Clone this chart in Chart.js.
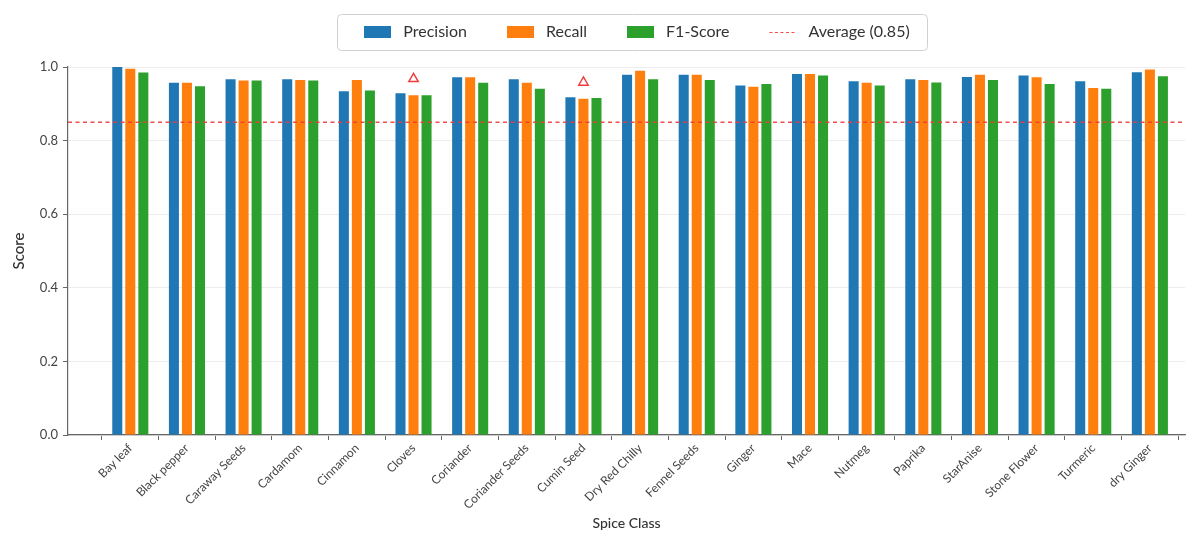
<!DOCTYPE html>
<html>
<head>
<meta charset="utf-8">
<script src="https://cdn.jsdelivr.net/npm/chart.js@4.4.1/dist/chart.umd.min.js"></script>
<style>
  html, body { margin: 0; padding: 0; background: #ffffff; }
  #wrap { width: 1192px; height: 538px; }
</style>
</head>
<body>
<div id="wrap"><canvas id="chart" width="1192" height="538"></canvas></div>
<script>
// Per-class classification metrics
const CATEGORIES = [
  'Bay leaf', 'Black pepper', 'Caraway Seeds', 'Cardamom', 'Cinnamon', 'Cloves',
  'Coriander', 'Coriander Seeds', 'Cumin Seed', 'Dry Red Chilly', 'Fennel Seeds',
  'Ginger', 'Mace', 'Nutmeg', 'Paprika', 'StarAnise', 'Stone Flower', 'Turmeric', 'dry Ginger'
];
const PRECISION = [1.000, 0.957, 0.967, 0.967, 0.934, 0.929, 0.972, 0.967, 0.918, 0.979,
                   0.979, 0.950, 0.981, 0.961, 0.967, 0.973, 0.977, 0.961, 0.986];
const RECALL    = [0.995, 0.957, 0.963, 0.965, 0.965, 0.923, 0.972, 0.957, 0.914, 0.990,
                   0.979, 0.946, 0.981, 0.957, 0.965, 0.979, 0.972, 0.943, 0.993];
const F1_SCORE  = [0.985, 0.948, 0.963, 0.963, 0.936, 0.923, 0.957, 0.941, 0.916, 0.967,
                   0.965, 0.954, 0.977, 0.950, 0.958, 0.965, 0.954, 0.941, 0.975];
const AVERAGE = 0.85;
// Classes flagged with a marker, and the marker heights
const FLAGGED = ['Cloves', 'Cumin Seed'];
const FLAG_VALUES = [0.968, 0.958];
const Y_TICKS = [0, 0.2, 0.4, 0.6, 0.8, 1.0];

const BLUE = '#1f77b4', ORANGE = '#ff7f0e', GREEN = '#2ca02c', RED = '#f03a3a';
const FONT = 'Lato, "Open Sans", "DejaVu Sans", sans-serif';
const AVERAGE_LABEL = 'Average (' + AVERAGE.toFixed(2) + ')';

const points = (vals) => vals.map((v, i) => ({ x: i, y: v }));

// Framed single-row legend centred over the plot
const legendBox = {
  id: 'legendBox',
  afterDraw(chart) {
    const { ctx, chartArea } = chart;
    const items = chart.data.datasets.slice(0, 3).map(ds => ({ text: ds.label, color: ds.backgroundColor, kind: 'patch' }));
    items.push({ text: AVERAGE_LABEL, color: RED, kind: 'dash' });
    const keyW = 27, keyGap = 12, itemGap = 40, padL = 27, padR = 18;
    const cy = 31.5, frameTop = 14, frameH = 36;
    ctx.save();
    ctx.font = '16px ' + FONT;
    const widths = items.map(it => ctx.measureText(it.text).width);
    const content = widths.reduce((s, w) => s + w, 0) + items.length * (keyW + keyGap) + (items.length - 1) * itemGap;
    const frameW = content + padL + padR;
    const frameL = (chartArea.left + chartArea.right) / 2 + 6 - frameW / 2;
    ctx.strokeStyle = '#d0d0d0';
    ctx.lineWidth = 1;
    ctx.beginPath();
    ctx.roundRect(Math.round(frameL) + 0.5, frameTop + 0.5, Math.round(frameW), frameH, 4);
    ctx.stroke();
    let x = frameL + padL;
    ctx.textBaseline = 'middle';
    ctx.textAlign = 'left';
    items.forEach((it, k) => {
      if (it.kind === 'patch') {
        ctx.fillStyle = it.color;
        ctx.fillRect(Math.round(x), Math.round(cy - 6), keyW, 12);
      } else {
        ctx.strokeStyle = it.color;
        ctx.globalAlpha = 0.9;
        ctx.lineWidth = 1.2;
        ctx.setLineDash([3, 2.5]);
        ctx.beginPath();
        ctx.moveTo(x, Math.round(cy) + 0.5);
        ctx.lineTo(x + keyW, Math.round(cy) + 0.5);
        ctx.stroke();
        ctx.setLineDash([]);
        ctx.globalAlpha = 1;
      }
      ctx.fillStyle = '#333';
      ctx.fillText(it.text, x + keyW + keyGap, cy);
      x += keyW + keyGap + widths[k] + itemGap;
    });
    ctx.restore();
  }
};

// Dashed reference line for the average score across the whole plot
const averageLine = {
  id: 'averageLine',
  afterDatasetsDraw(chart) {
    const { ctx, chartArea, scales } = chart;
    const y = scales.y.getPixelForValue(AVERAGE);
    ctx.save();
    ctx.strokeStyle = RED;
    ctx.globalAlpha = 0.9;
    ctx.lineWidth = 1.5;
    ctx.setLineDash([4, 3.5]);
    ctx.beginPath();
    ctx.moveTo(chartArea.left, y);
    ctx.lineTo(chartArea.right, y);
    ctx.stroke();
    ctx.restore();
  }
};

const barStyle = { categoryPercentage: 0.69, barPercentage: 0.77, borderWidth: 0, clip: false };

new Chart(document.getElementById('chart'), {
  type: 'bar',
  data: {
    datasets: [
      { label: 'Precision', data: points(PRECISION), backgroundColor: BLUE, ...barStyle },
      { label: 'Recall', data: points(RECALL), backgroundColor: ORANGE, ...barStyle },
      { label: 'F1-Score', data: points(F1_SCORE), backgroundColor: GREEN, ...barStyle },
      {
        type: 'line', label: 'flagged', showLine: false,
        data: FLAGGED.map((name, k) => ({ x: CATEGORIES.indexOf(name), y: FLAG_VALUES[k] })),
        pointStyle: 'triangle', pointRadius: 5.5, pointBorderWidth: 1.4,
        pointBorderColor: RED, pointBackgroundColor: 'rgba(255,255,255,0)', clip: false
      }
    ]
  },
  options: {
    responsive: false,
    devicePixelRatio: 1,
    animation: false,
    layout: { padding: { top: 67, left: 0, right: 7, bottom: 0 } },
    plugins: {
      tooltip: { enabled: false },
      legend: { display: false }
    },
    scales: {
      x: {
        type: 'linear',
        min: -1.1,
        max: 18.62,
        offset: false,
        afterBuildTicks: (axis) => { axis.ticks = CATEGORIES.map((_, i) => ({ value: i })); },
        afterFit: (axis) => { axis.height = 103; },
        ticks: {
          autoSkip: false,
          maxRotation: 45,
          minRotation: 45,
          padding: 1,
          color: '#444',
          font: { family: FONT, size: 12 },
          callback: (v) => CATEGORIES[v] ?? ''
        },
        grid: { drawOnChartArea: false, drawTicks: true, tickLength: 5, tickColor: '#666' },
        border: { display: true, color: '#666', width: 1.2 },
        title: {
          display: true, text: 'Spice Class', color: '#333',
          font: { family: FONT, size: 14, weight: '500' },
          padding: { top: 0, bottom: 6 }
        }
      },
      y: {
        min: 0,
        max: 1.0,
        afterBuildTicks: (axis) => { axis.ticks = Y_TICKS.map(v => ({ value: v })); },
        afterFit: (axis) => { axis.width = 68; },
        ticks: {
          color: '#444',
          padding: 5,
          font: { family: FONT, size: 13 },
          callback: (v) => Number(v).toFixed(1)
        },
        grid: { color: '#ececec', lineWidth: 1, tickLength: 5, tickColor: '#666' },
        border: { display: true, color: '#666', width: 1.2 },
        title: {
          display: true, text: 'Score', color: '#333',
          font: { family: FONT, size: 15, weight: '500' },
          padding: { top: 10, bottom: 0 }
        }
      }
    }
  },
  plugins: [legendBox, averageLine]
});
</script>
</body>
</html>
